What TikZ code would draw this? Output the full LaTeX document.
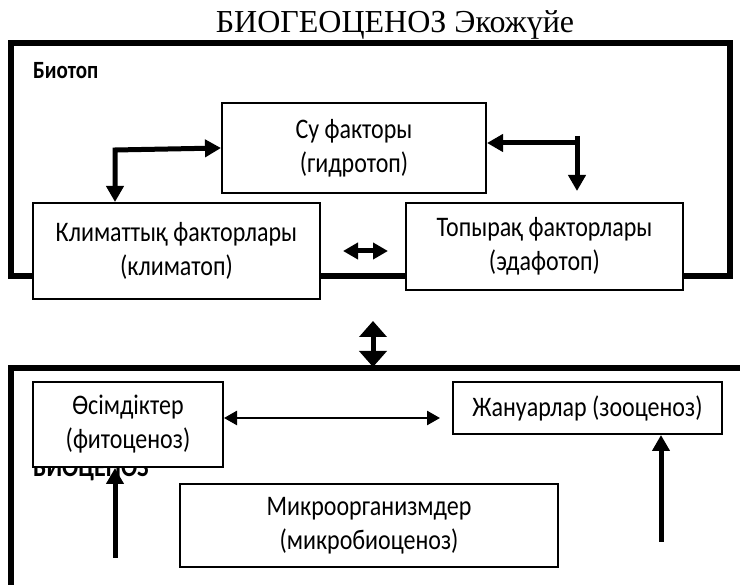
\documentclass[tikz,border=0pt]{standalone}
\usepackage{fontspec}
\usepackage{graphicx}
\setmainfont{Liberation Serif}
\newfontfamily\calfont{Carlito}
\newcommand{\vst}[1]{\scalebox{1}[1.18]{#1}}
\usetikzlibrary{arrows.meta,calc}
\begin{document}
\begin{tikzpicture}[x=1pt,y=-1pt,
  box/.style={draw, line width=2pt, fill=white, align=center, inner sep=0pt,
    font=\calfont\fontsize{24}{34}\selectfont},
  frame/.style={line width=6pt},
  thickarr/.style={line width=5pt, -{Triangle[length=16pt,width=17pt]}},
  thickboth/.style={line width=5pt, {Triangle[length=16pt,width=17pt]}-{Triangle[length=16pt,width=17pt]}},
  thinboth/.style={line width=2.5pt, {Triangle[length=13pt,width=14pt]}-{Triangle[length=13pt,width=14pt]}},
  lbl/.style={font=\calfont\bfseries\fontsize{21}{24}\selectfont, anchor=base west, inner sep=0pt}
]
\useasboundingbox (0,0) rectangle (740,585);
\fill[white] (0,0) rectangle (740,585);

% title
\node[font=\fontsize{32}{34}\selectfont, inner sep=0pt, anchor=base] (title) at (395,33) {БИОГЕОЦЕНОЗ Экожүйе};

% biotop frame
\draw[frame] (10.5,43) rectangle (730,276);
\node[lbl] (biotop) at (33,79) {\vst{Биотоп}};

% biocenosis frame
\draw[frame] (10.5,600) -- (10.5,368) -- (760,368);
\node[lbl, font=\calfont\bfseries\fontsize{24}{26}\selectfont] (biocen) at (33,477) {\vst{БИОЦЕНОЗ}};

% boxes
\node[box, minimum width=264pt, minimum height=90pt] (su) at (354,148) {\vst{Су факторы}\\\vst{(гидротоп)}};
\node[box, minimum width=287pt, minimum height=96pt] (klim) at (176.5,251) {\vst{Климаттық факторлары}\\\vst{(климатоп)}};
\node[box, minimum width=277pt, minimum height=87pt] (topy) at (544.5,246.5) {\vst{Топырақ факторлары}\\\vst{(эдафотоп)}};
\node[box, minimum width=190pt, minimum height=85pt] (osim) at (128,424.5) {\vst{Өсімдіктер}\\\vst{(фитоценоз)}};
\node[box, minimum width=269pt, minimum height=52pt] (zhan) at (587.5,408) {\vst{Жануарлар (зооценоз)}};
\node[box, minimum width=378pt, minimum height=83pt] (micro) at (369,525.5) {\vst{Микроорганизмдер}\\\vst{(микробиоценоз)}};

% left elbow
\coordinate (le) at (115,150);
\draw[thickboth, line join=miter] (le |- klim.north) -- (le) -- (su.west);

% right elbow
\coordinate (re) at (577,143);
\coordinate (retop) at (577,136);
\draw[thickarr] (re) -- (su.east |- re);
\draw[thickarr, shorten >=11pt] (retop) -- (retop |- topy.north);

% middle small double arrow
\coordinate (ma) at (343,251);
\coordinate (mb) at (388,251);
\draw[line width=5pt, {Triangle[length=15pt,width=16pt]}-{Triangle[length=15pt,width=16pt]}] (ma) -- (mb);

% vertical double arrow between biotop and biocenosis
\coordinate (va) at (373,321);
\coordinate (vb) at (373,367);
\draw[line width=5pt, {Triangle[length=16pt,width=27pt]}-{Triangle[length=16pt,width=27pt]}] (va) -- (vb);

% horizontal thin double arrow
\draw[thinboth, shorten >=12pt] (osim.east |- 0,418) -- (zhan.west |- 0,418);

% up arrows
\coordinate (ua) at (115,558);
\coordinate (ub) at (661,542);
\draw[thickarr] (ua) -- (ua |- osim.south);
\draw[thickarr] (ub) -- (ub |- zhan.south);
\end{tikzpicture}
\end{document}
